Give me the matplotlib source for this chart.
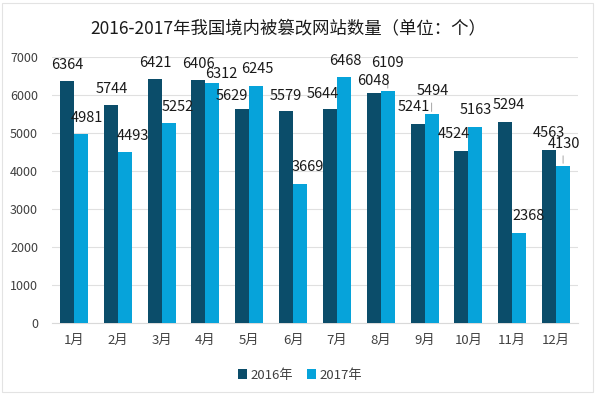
import matplotlib
matplotlib.use('Agg')
import matplotlib.pyplot as plt
import numpy as np
from matplotlib.patches import Rectangle

plt.rcParams['font.family'] = ['Noto Sans CJK SC', 'DejaVu Sans']

# Données
months = ['1月', '2月', '3月', '4月', '5月', '6月',
          '7月', '8月', '9月', '10月', '11月', '12月']
values_2016 = [6364, 5744, 6421, 6406, 5629, 5579, 5644, 6048, 5241, 4524, 5294, 4563]
values_2017 = [4981, 4493, 5252, 6312, 6245, 3669, 6468, 6109, 5494, 5163, 2368, 4130]
series_names = ['2016年', '2017年']
title = '2016-2017年我国境内被篡改网站数量（单位：个）'

# Décalages des étiquettes (pixels) et lignes de rappel
offsets_2016 = [(0, 16), (1, 16), (1, 16), (0, 16), (-10, 13), (0, 15),
                (-7, 15), (0, 12), (-4, 17), (-7, 17), (4, 17), (0, 17)]
offsets_2017 = [(6, 16), (8, 16), (9, 16), (9, 9), (1, 17), (8, 17),
                (1, 16), (0, 28), (1, 23), (0, 17), (9, 17), (1, 22)]
leader_2017 = [7, 8, 11]

c2016 = '#0B4D6A'
c2017 = '#06A3DA'

fig = plt.figure(figsize=(6.0, 3.94), dpi=100)
ax = fig.add_axes([52 / 600, 1 - 323 / 394, 526 / 600, 266 / 394])

x = np.arange(len(months))
w = 0.32
b1 = ax.bar(x - w / 2, values_2016, w, color=c2016, label=series_names[0], zorder=3)
b2 = ax.bar(x + w / 2, values_2017, w, color=c2017, label=series_names[1], zorder=3)

ax.set_xlim(-0.5, len(months) - 0.5)
ax.set_ylim(0, 7000)
ax.set_yticks(range(0, 7001, 1000))
ax.set_xticks(x)
ax.set_xticklabels(months, fontsize=9.5)
ax.tick_params(axis='both', length=0, colors='#404040')
ax.tick_params(axis='y', labelsize=9, pad=10)
ax.tick_params(axis='x', pad=8)
ax.grid(axis='y', color='#E0E0E0', linewidth=0.8, zorder=0)
for s in ['top', 'right', 'left']:
    ax.spines[s].set_visible(False)
ax.spines['bottom'].set_color('#D9D9D9')

for i, (bar, v) in enumerate(zip(b1, values_2016)):
    dx, dy = offsets_2016[i]
    ax.annotate(str(v), (bar.get_x() + bar.get_width() / 2, v),
                xytext=(dx, dy), textcoords='offset pixels',
                ha='center', va='center', fontsize=10.5, color='#1A1A1A', zorder=4)

for i, (bar, v) in enumerate(zip(b2, values_2017)):
    dx, dy = offsets_2017[i]
    cx = bar.get_x() + bar.get_width() / 2
    ax.annotate(str(v), (cx, v),
                xytext=(dx, dy), textcoords='offset pixels',
                ha='center', va='center', fontsize=10.5, color='#1A1A1A', zorder=4)
    if i in leader_2017:
        ax.annotate('', (cx, v), xytext=(0, dy - 9), textcoords='offset pixels',
                    arrowprops=dict(arrowstyle='-', color='#A6A6A6', lw=0.7))

fig.text(288 / 600, 1 - 28 / 394, title, ha='center', va='center',
         fontsize=12.5, color='#1A1A1A')

leg = fig.legend(loc='center', bbox_to_anchor=(300 / 600, 1 - 375 / 394), ncol=2,
                 frameon=False, fontsize=9.5, handlelength=0.7, handleheight=0.7,
                 handletextpad=0.3, columnspacing=1.0)
for t in leg.get_texts():
    t.set_color('#404040')

fig.patches.append(Rectangle((2 / 600, 2 / 394), 591 / 600, 389 / 394,
                             transform=fig.transFigure, fill=False,
                             edgecolor='#E3E3E3', linewidth=0.8))

plt.savefig('out.png', dpi=100)
plt.close()
